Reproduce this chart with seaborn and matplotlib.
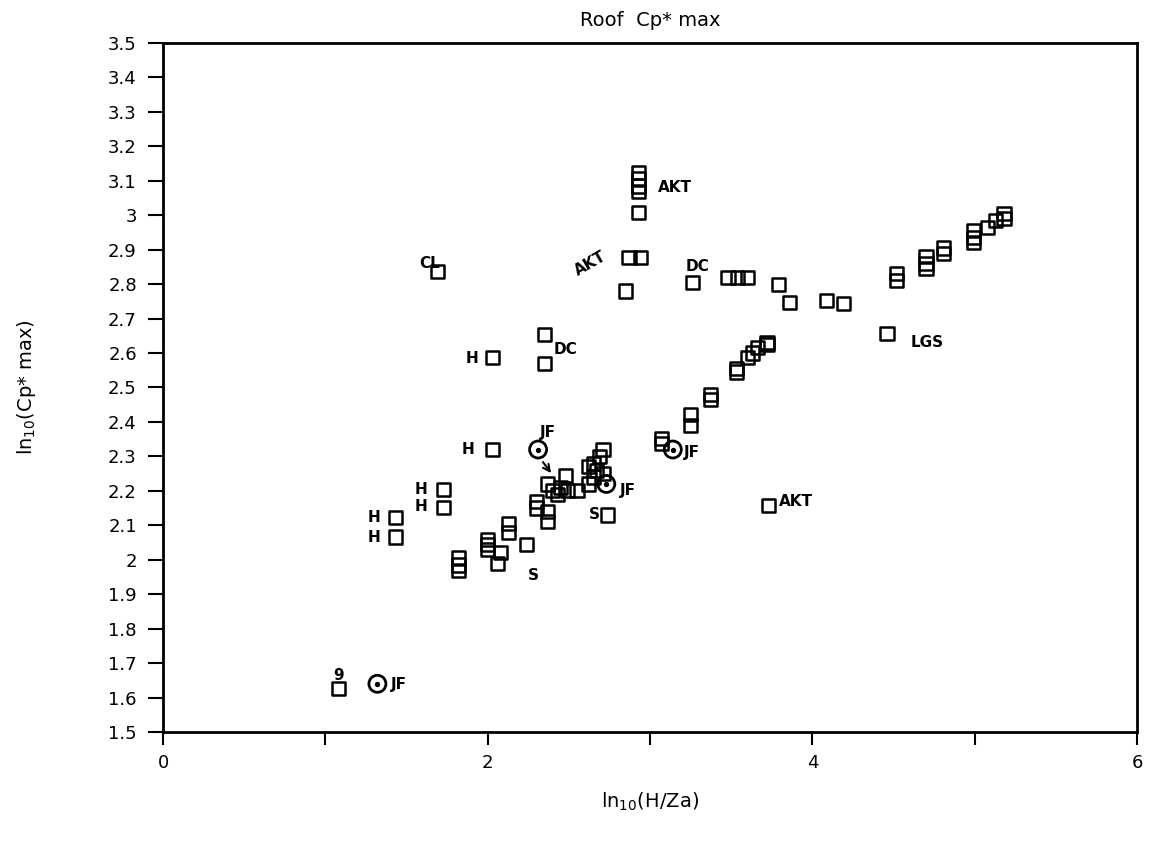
import numpy as np
import pandas as pd
import matplotlib
matplotlib.use("Agg")
import matplotlib.pyplot as plt
import seaborn as sns

# ---- data ----
x_vals = [1.08, 1.43, 1.43, 1.725, 1.725, 1.69, 2.03, 2.03,
          1.82, 1.82, 1.82, 2.00, 2.00, 2.00, 2.06, 2.08, 2.13, 2.13, 2.24,
          2.30, 2.30, 2.37, 2.37, 2.37, 2.40, 2.43, 2.45, 2.48, 2.49, 2.55,
          2.62, 2.62, 2.65, 2.65, 2.67, 2.69, 2.71, 2.71, 2.74,
          2.35, 2.35,
          2.93, 2.93, 2.93, 2.93, 2.93, 2.87, 2.94, 2.85,
          3.07, 3.07, 3.25, 3.25, 3.37, 3.37,
          3.26, 3.48, 3.54, 3.60, 3.79, 3.86, 4.085, 4.19, 4.46,
          3.53, 3.53, 3.60, 3.63, 3.66, 3.72, 3.72,
          3.73,
          4.52, 4.52, 4.70, 4.70, 4.70, 4.81, 4.81,
          4.99, 4.99, 4.99, 5.08, 5.13, 5.18, 5.18]
y_vals = [1.627, 2.123, 2.066, 2.204, 2.152, 2.837, 2.32, 2.587,
          2.005, 1.985, 1.968, 2.06, 2.045, 2.03, 1.99, 2.02, 2.105, 2.08, 2.044,
          2.17, 2.15, 2.11, 2.14, 2.22, 2.20, 2.19, 2.21, 2.245, 2.20, 2.20,
          2.22, 2.27, 2.28, 2.24, 2.26, 2.30, 2.32, 2.25, 2.13,
          2.654, 2.57,
          3.125, 3.105, 3.085, 3.07, 3.008, 2.878, 2.878, 2.78,
          2.352, 2.338, 2.422, 2.39, 2.48, 2.466,
          2.805, 2.82, 2.82, 2.82, 2.80, 2.747, 2.753, 2.744, 2.657,
          2.556, 2.545, 2.587, 2.60, 2.617, 2.63, 2.625,
          2.158,
          2.83, 2.81, 2.88, 2.86, 2.845, 2.905, 2.89,
          2.955, 2.935, 2.92, 2.965, 2.985, 3.005, 2.99]

circle_x = [1.32, 2.31, 2.73, 3.14]
circle_y = [1.64, 2.32, 2.22, 2.32]

notes = [("AKT", 3.15, 3.08, 0), ("AKT", 2.63, 2.86, 30), ("DC", 3.29, 2.85, 0),
         ("CL", 1.64, 2.86, 0), ("H", 1.90, 2.585, 0), ("DC", 2.48, 2.61, 0),
         ("LGS", 4.71, 2.63, 0), ("JF", 2.37, 2.37, 0), ("JF", 2.86, 2.20, 0),
         ("JF", 3.26, 2.31, 0), ("AKT", 3.90, 2.17, 0), ("S", 2.655, 2.13, 0),
         ("S", 2.28, 1.955, 0), ("H", 1.59, 2.205, 0), ("H", 1.59, 2.155, 0),
         ("H", 1.30, 2.123, 0), ("H", 1.30, 2.066, 0), ("9", 1.08, 1.665, 0),
         ("JF", 1.45, 1.638, 0), ("H", 1.88, 2.32, 0)]

df = pd.DataFrame({"x": x_vals, "y": y_vals})

sns.set_theme(style="white")
plt.rcParams['font.family'] = ['DejaVu Sans']
plt.rcParams['text.color'] = 'black'
plt.rcParams['axes.labelcolor'] = 'black'

fig = plt.figure(figsize=(11.49, 8.42), dpi=100)
ax = fig.add_axes([0.142, 0.1306, 0.8476, 0.8184])

sns.scatterplot(data=df, x="x", y="y", ax=ax, marker="s", s=90,
                facecolor="none", edgecolor="black", linewidth=1.8, legend=False)
ax.scatter(circle_x, circle_y, s=150, facecolor="none", edgecolor="black", linewidth=2.0, zorder=3)
ax.scatter(circle_x, circle_y, s=8, color="black", zorder=3)

for t, tx, ty, rot in notes:
    ax.text(tx, ty, t, fontsize=11, fontweight="bold", rotation=rot,
            ha="center", va="center", color="black")

ax.annotate("", xy=(2.40, 2.245), xytext=(2.33, 2.29),
            arrowprops=dict(arrowstyle="->", color="black", lw=1.5))

ax.set_xlim(0, 6)
ax.set_ylim(1.5, 3.5)
ax.set_xticks([0, 1, 2, 3, 4, 5, 6])
ax.set_xticklabels(["0", "", "2", "", "4", "", "6"])
yt = np.round(np.arange(1.5, 3.51, 0.1), 1)
ax.set_yticks(yt)
ax.set_yticklabels([("%g" % v) for v in yt])
ax.tick_params(axis="both", direction="out", width=1.5, color="black",
               labelsize=13, labelcolor="black", bottom=True, left=True)
ax.tick_params(axis="y", length=11, pad=8)
ax.tick_params(axis="x", length=9, pad=7)
for sp in ax.spines.values():
    sp.set_color("black")
    sp.set_linewidth(2)

ax.set_xlabel(r"ln$_{10}$(H/Za)", fontsize=14, color="black")
ax.xaxis.set_label_coords(0.5, -0.085)
ax.set_ylabel(r"ln$_{10}$(Cp* max)", fontsize=14, color="black")
ax.yaxis.set_label_coords(-0.128, 0.5)
ax.set_title("Roof  Cp* max", fontsize=14, pad=12, x=0.5, color="black")

fig.savefig("out.png", dpi=100)
